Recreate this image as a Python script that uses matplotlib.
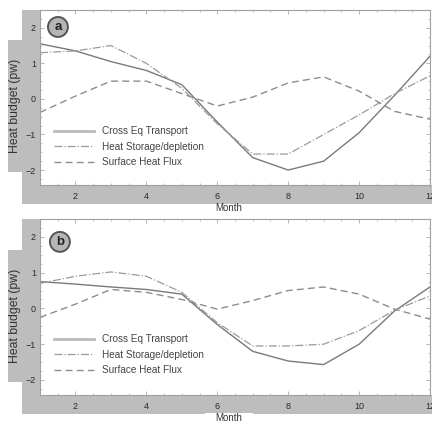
import numpy as np
import matplotlib
matplotlib.use('Agg')
import matplotlib.pyplot as plt
from matplotlib.patches import Rectangle
from matplotlib.ticker import MultipleLocator

plt.rcParams['font.family'] = ['Liberation Sans', 'DejaVu Sans']

# data
months = [1, 2, 3, 4, 5, 6, 7, 8, 9, 10, 11, 12]
series_names = ['Cross Eq Transport', 'Heat Storage/depletion', 'Surface Heat Flux']

a_cross = [1.55, 1.35, 1.05, 0.8, 0.4, -0.65, -1.65, -2.0, -1.75, -0.95, 0.1, 1.2]
a_storage = [1.3, 1.35, 1.5, 1.0, 0.3, -0.7, -1.55, -1.55, -1.0, -0.45, 0.15, 0.65]
a_surface = [-0.38, 0.08, 0.5, 0.5, 0.15, -0.2, 0.05, 0.45, 0.62, 0.22, -0.35, -0.57]

b_cross = [0.75, 0.68, 0.6, 0.53, 0.4, -0.45, -1.2, -1.47, -1.57, -1.0, -0.07, 0.6]
b_storage = [0.7, 0.9, 1.02, 0.9, 0.45, -0.4, -1.05, -1.05, -1.0, -0.62, -0.05, 0.35]
b_surface = [-0.25, 0.12, 0.53, 0.45, 0.25, -0.02, 0.22, 0.5, 0.6, 0.4, -0.02, -0.3]

xticks = [2, 4, 6, 8, 10, 12]
yticks = [-2, -1, 0, 1, 2]

W, H = 432, 424
fig = plt.figure(figsize=(W/100, H/100), dpi=100, facecolor='white')

GREY = '#bdbdbd'

def box(x0, y0, x1, y1):
    # pixel box (top-left origin) -> figure fraction rect
    return [x0/W, 1 - y1/H, (x1-x0)/W, (y1-y0)/H]

def grey_rect(x0, y0, x1, y1, color=GREY, z=-2):
    l, b, w, h = box(x0, y0, x1, y1)
    fig.patches.append(Rectangle((l, b), w, h, transform=fig.transFigure,
                                 facecolor=color, edgecolor='none', zorder=z))

styles = [dict(color='#7a7a7a', lw=1.0, ls='-'),
          dict(color='#9a9a9a', lw=0.9, ls='-.'),
          dict(color='#8c8c8c', lw=1.0, ls=(0, (5, 3)))]

panels = [
    dict(tag='a', ax_px=(40, 10, 430, 185), data=[a_cross, a_storage, a_surface],
         ylab_px=(8, 40, 22, 172), leg_y=0.335, tag_xy=(0.046, 0.903)),
    dict(tag='b', ax_px=(40, 219, 430, 395), data=[b_cross, b_storage, b_surface],
         ylab_px=(8, 250, 22, 382), leg_y=0.345, tag_xy=(0.051, 0.87)),
]

for p in panels:
    x0, y0, x1, y1 = p['ax_px']
    # grey frame left and below the axes
    grey_rect(22, y0, x0, y1 + 19)
    grey_rect(22, y1, W, y1 + 19)
    # ylabel box
    lx0, ly0, lx1, ly1 = p['ylab_px']
    grey_rect(lx0, ly0, lx1, ly1)
    fig.text((lx0 + lx1) / 2 / W, 1 - (ly0 + ly1) / 2 / H, 'Heat budget (pw)',
             rotation=90, ha='center', va='center', fontsize=8.8, color='#333333')

    ax = fig.add_axes(box(x0, y0, x1, y1))
    ax.set_facecolor('white')
    for vals, name, st in zip(p['data'], series_names, styles):
        ax.plot(months, vals, label=name, **st)

    ax.set_xlim(1, 12)
    ax.set_ylim(-2.42, 2.5)
    ax.set_xticks(xticks)
    ax.set_yticks(yticks)
    ax.xaxis.set_minor_locator(MultipleLocator(0.5))
    ax.yaxis.set_minor_locator(MultipleLocator(0.25))
    ax.tick_params(which='both', direction='in', colors='#aaaaaa', labelcolor='#2a2a2a',
                   labelsize=6.5, top=True, right=True)
    ax.tick_params(which='major', length=3, width=0.6)
    ax.tick_params(which='minor', length=1.5, width=0.5)
    ax.tick_params(axis='x', pad=5)
    ax.tick_params(axis='y', pad=3)
    for s in ax.spines.values():
        s.set_color('#a0a0a0')
        s.set_linewidth(0.8)

    leg = ax.legend(loc='upper left', bbox_to_anchor=(0.035, p['leg_y']), frameon=False,
                    fontsize=7.2, handlelength=4.0, handletextpad=0.8, labelspacing=0.55,
                    borderpad=0, borderaxespad=0)
    for t in leg.get_texts():
        t.set_color('#444444')
    leg.get_lines()[0].set_linewidth(2.0)
    leg.get_lines()[0].set_color('#bbbbbb')

    ax.text(p['tag_xy'][0], p['tag_xy'][1], p['tag'], transform=ax.transAxes,
            ha='center', va='center', fontsize=9.5, fontweight='bold', color='#222222',
            bbox=dict(boxstyle='circle,pad=0.3', fc='#b5b5b5', ec='#555555', lw=1.4))

# "Month" labels
fig.text(229/W, 1 - 208/H, 'Month', ha='center', va='center', fontsize=7, color='#333333')
grey_rect(205, 413, 253, 424, color='white', z=-1)
fig.text(229/W, 1 - 418/H, 'Month', ha='center', va='center', fontsize=7, color='#333333')

fig.savefig('out.png', dpi=100, facecolor='white')
